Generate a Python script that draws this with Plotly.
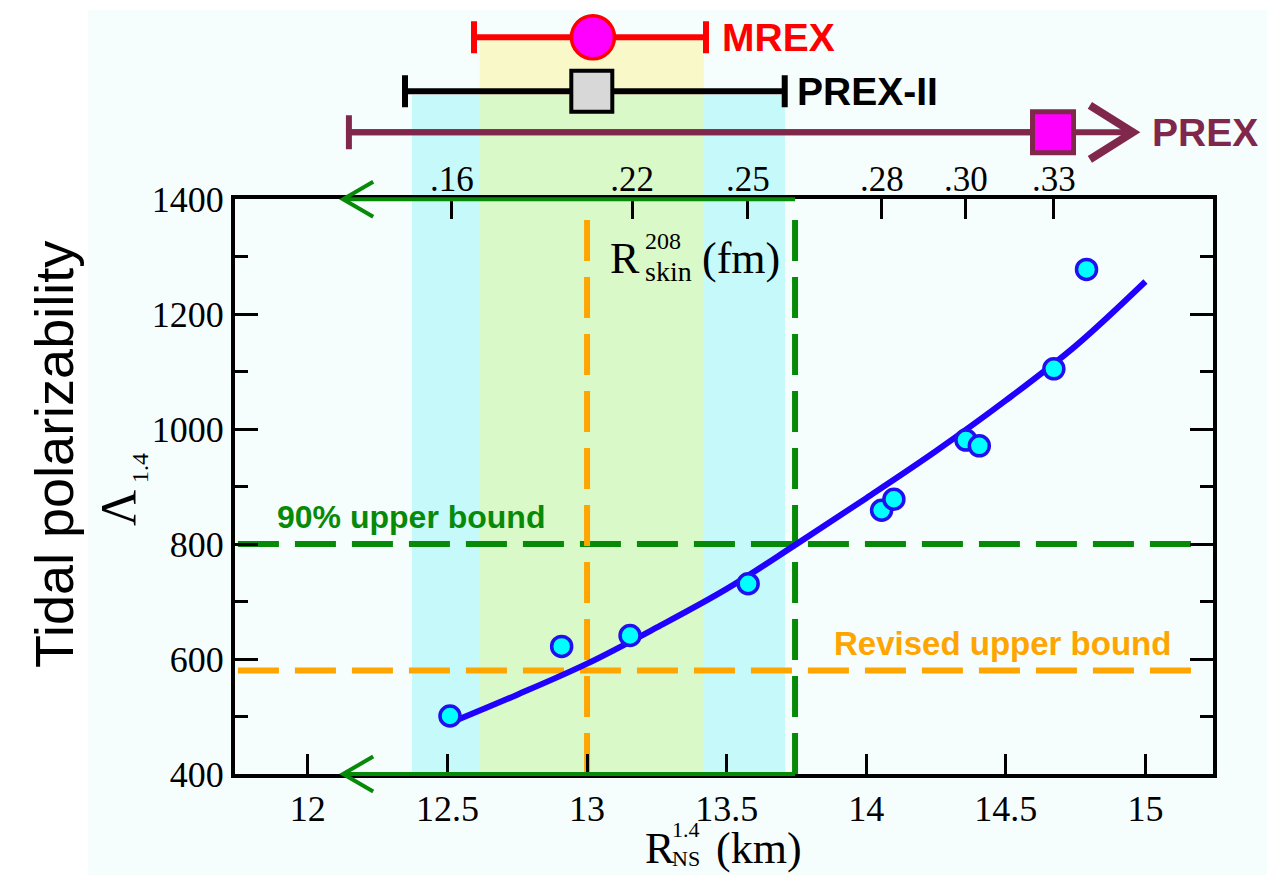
import plotly.graph_objects as go

# ---------------- data ----------------
r_ns = [12.509, 12.909, 13.154, 13.577, 14.055, 14.099, 14.357, 14.405, 14.672, 14.789]
lam14 = [501, 622, 641, 731, 859, 878, 981, 971, 1105, 1278]

fit_r = [12.5, 12.75, 13.0, 13.25, 13.5, 13.75, 14.0, 14.25, 14.5, 14.75, 15.0]
fit_lam = [487, 538, 592, 655, 722, 800, 880, 962, 1050, 1145, 1257]

x_tickvals = [12, 12.5, 13, 13.5, 14, 14.5, 15]
x_ticktext = ["12", "12.5", "13", "13.5", "14", "14.5", "15"]
y_tickvals = [400, 600, 800, 1000, 1200, 1400]
y_minor = [500, 700, 900, 1100, 1300]

skin_pos = [12.516, 13.161, 13.576, 14.056, 14.357, 14.672]
skin_text = [".16", ".22", ".25", ".28", ".30", ".33"]

bound_90 = 800
bound_revised = 580
r_at_revised = 13.0
r_at_90 = 13.745

exp_names = ["MREX", "PREX-II", "PREX"]
exp_center = [13.021, 13.017, 14.669]
exp_lo = [12.595, 12.348, 12.147]
exp_hi = [13.426, 13.708, 14.955]

band_outer = [12.373, 13.709]
band_inner = [12.616, 13.418]

arrow_tip_r = 12.126

# ---------------- layout helpers ----------------
W, H = 1286, 875
ML, MR, MT, MB = 235, 73, 10, 101
PW, PH = W - ML - MR, H - MT - MB
PLOT_TOP_PX = 199.3
D = (H - MB - PLOT_TOP_PX) / PH  # top of main y domain


def xp(px):
    return (px - ML) / PW


def yp(py):
    return (H - MB - py) / PH


GREEN = "#078a07"
ORANGE = "#ffa500"
BLUE = "#2000ff"
MAROON = "#80284c"
SERIF = "Liberation Serif"
SANS = "Liberation Sans"

row_level = [162, 108, 67]  # y3 positions of experiment rows

fig = go.Figure()

fig.add_trace(go.Scatter(x=fit_r, y=fit_lam, mode="lines", line=dict(color=BLUE, width=6, shape="spline"),
                         hoverinfo="skip"))
fig.add_trace(go.Scatter(x=r_ns, y=lam14, mode="markers",
                         marker=dict(size=20, color="#00ffff", line=dict(color="#2010f0", width=3.5)),
                         cliponaxis=False))
fig.add_trace(go.Scatter(x=skin_pos, y=[None] * len(skin_pos), xaxis="x2", yaxis="y", mode="markers",
                         hoverinfo="skip"))

fig.add_trace(go.Scatter(x=[exp_center[0]], y=[row_level[0]], xaxis="x", yaxis="y3", mode="markers",
                         error_x=dict(type="data", symmetric=False, array=[exp_hi[0] - exp_center[0]],
                                      arrayminus=[exp_center[0] - exp_lo[0]], color="#ff0000",
                                      thickness=6, width=16),
                         marker=dict(symbol="circle", size=43, color="#ff00ff", line=dict(color="#ff0000", width=3.5)),
                         cliponaxis=False))
fig.add_trace(go.Scatter(x=[exp_center[1]], y=[row_level[1]], xaxis="x", yaxis="y3", mode="markers",
                         error_x=dict(type="data", symmetric=False, array=[exp_hi[1] - exp_center[1]],
                                      arrayminus=[exp_center[1] - exp_lo[1]], color="#000000",
                                      thickness=6, width=16),
                         marker=dict(symbol="square", size=41, color="#d8d8d8", line=dict(color="#000000", width=4)),
                         cliponaxis=False))
fig.add_trace(go.Scatter(x=[exp_lo[2], exp_hi[2]], y=[row_level[2], row_level[2]], xaxis="x", yaxis="y3",
                         mode="lines", line=dict(color=MAROON, width=6), hoverinfo="skip"))
fig.add_trace(go.Scatter(x=[exp_hi[2] - 0.154, exp_hi[2], exp_hi[2] - 0.154],
                         y=[row_level[2] + 27, row_level[2], row_level[2] - 27], xaxis="x", yaxis="y3",
                         mode="lines", line=dict(color=MAROON, width=8), hoverinfo="skip"))
fig.add_trace(go.Scatter(x=[exp_center[2]], y=[row_level[2]], xaxis="x", yaxis="y3", mode="markers",
                         error_x=dict(type="data", symmetric=False, array=[0],
                                      arrayminus=[exp_center[2] - exp_lo[2]], color=MAROON,
                                      thickness=6, width=17),
                         marker=dict(symbol="square", size=41, color="#ff00ff", line=dict(color=MAROON, width=5)),
                         cliponaxis=False))

shapes = []
shapes.append(dict(type="rect", xref="paper", yref="paper", x0=xp(88), x1=xp(1267), y0=yp(875), y1=yp(10),
                   fillcolor="#f6fdfd", line=dict(width=0), layer="below"))
shapes.append(dict(type="rect", xref="x", yref="paper", x0=band_outer[0], x1=band_outer[1], y0=0, y1=yp(95),
                   fillcolor="#c6f9f9", line=dict(width=0), layer="below"))
shapes.append(dict(type="rect", xref="x", yref="paper", x0=band_inner[0], x1=band_inner[1], y0=yp(95), y1=yp(38),
                   fillcolor="#f8f8c8", line=dict(width=0), layer="below"))
shapes.append(dict(type="rect", xref="x", yref="paper", x0=band_inner[0], x1=band_inner[1], y0=0, y1=yp(95),
                   fillcolor="#daf9c8", line=dict(width=0), layer="below"))
DASH = "41px,16px"
shapes.append(dict(type="line", xref="paper", yref="y", x0=0.003, x1=xp(1199), y0=bound_90, y1=bound_90,
                   line=dict(color=GREEN, width=6, dash=DASH), layer="below"))
shapes.append(dict(type="line", xref="paper", yref="y", x0=0.003, x1=xp(1199), y0=bound_revised, y1=bound_revised,
                   line=dict(color=ORANGE, width=6, dash=DASH), layer="below"))
shapes.append(dict(type="line", xref="x", yref="y", x0=r_at_revised, x1=r_at_revised, y0=400, y1=1373,
                   line=dict(color=ORANGE, width=6, dash=DASH), layer="below"))
shapes.append(dict(type="line", xref="x", yref="y", x0=r_at_90, x1=r_at_90, y0=400, y1=1373,
                   line=dict(color=GREEN, width=6, dash=DASH), layer="below"))
for ylev in (0, D):
    shapes.append(dict(type="line", xref="x", yref="paper", x0=arrow_tip_r, x1=r_at_90, y0=ylev, y1=ylev,
                       line=dict(color=GREEN, width=4), layer="above"))
    dy = 17.5 / PH
    shapes.append(dict(type="path", xref="x", yref="paper",
                       path=f"M {arrow_tip_r + 0.108},{ylev + dy} L {arrow_tip_r},{ylev} L {arrow_tip_r + 0.108},{ylev - dy}",
                       line=dict(color=GREEN, width=4), layer="above"))

ann = []


def add_text(text, px, py, size, family=SERIF, color="black", xanchor="left", angle=0, yanchor="middle"):
    ann.append(dict(text=text, xref="paper", yref="paper", x=xp(px), y=yp(py), xanchor=xanchor, yanchor=yanchor,
                    showarrow=False, textangle=angle, borderpad=0, align="left",
                    font=dict(family=family, size=size, color=color)))


add_text("Tidal polarizability", 54, 455, 54, family=SANS, xanchor="center", angle=-90)
add_text("Λ", 118, 508, 50, xanchor="center", angle=-90)
add_text("1.4", 140, 468, 24, xanchor="center", angle=-90)
# x-axis title: R with stacked 1.4 / NS
add_text("R", 644, 849, 44)
add_text("1.4<br>NS", 671, 844, 22)
add_text("(km)", 715, 849, 44)
# top-axis title
add_text("R", 609, 258, 44)
add_text("208", 644, 241, 24)
add_text("skin", 644, 272, 28)
add_text("(fm)", 701, 258, 44)
add_text("<b>90% upper bound</b>", 411, 517, 32, family=SANS, color=GREEN, xanchor="center")
add_text("<b>Revised upper bound</b>", 1002, 643, 33, family=SANS, color=ORANGE, xanchor="center")

exp_colors = ["#ff0000", "#000000", MAROON]
exp_shift = [14, 10, 17]
for name, hi, lev, col, sh in zip(exp_names, exp_hi, row_level, exp_colors, exp_shift):
    ann.append(dict(text=f"<b>{name}</b>", xref="x", yref="y3", x=hi, y=lev, xanchor="left", yanchor="middle",
                    xshift=sh, showarrow=False, font=dict(family=SANS, size=39, color=col)))

axis_common = dict(showgrid=False, zeroline=False, ticks="inside", tickcolor="black", automargin=False)

fig.update_layout(
    width=W, height=H,
    margin=dict(l=ML, r=MR, t=MT, b=MB, autoexpand=False),
    paper_bgcolor="white", plot_bgcolor="rgba(0,0,0,0)",
    showlegend=False,
    shapes=shapes,
    annotations=ann,
    xaxis=dict(range=[11.739, 15.242], domain=[0, 1], anchor="y", tickvals=x_tickvals, ticktext=x_ticktext,
               ticklen=20, tickwidth=3, showline=True, linewidth=4, linecolor="black", mirror=True,
               tickfont=dict(family=SERIF, size=36, color="black"), **axis_common),
    xaxis2=dict(range=[11.739, 15.242], overlaying="x", side="top", anchor="y", tickvals=skin_pos,
                ticktext=skin_text, ticklen=20, tickwidth=2.5, showline=False,
                tickfont=dict(family=SERIF, size=35, color="black"), **axis_common),
    yaxis=dict(range=[400, 1400], domain=[0, D], anchor="x", tickvals=y_tickvals, ticklen=23, tickwidth=3,
               showline=True, linewidth=4, linecolor="black", mirror="ticks",
               minor=dict(tickvals=y_minor, ticks="inside", ticklen=13, tickwidth=3, tickcolor="black"),
               tickfont=dict(family=SERIF, size=36, color="black"), **axis_common),
    yaxis3=dict(range=[0, 189.3], domain=[D, 1], anchor="x", visible=False, showgrid=False, zeroline=False),
)

fig.write_html("out.html")
